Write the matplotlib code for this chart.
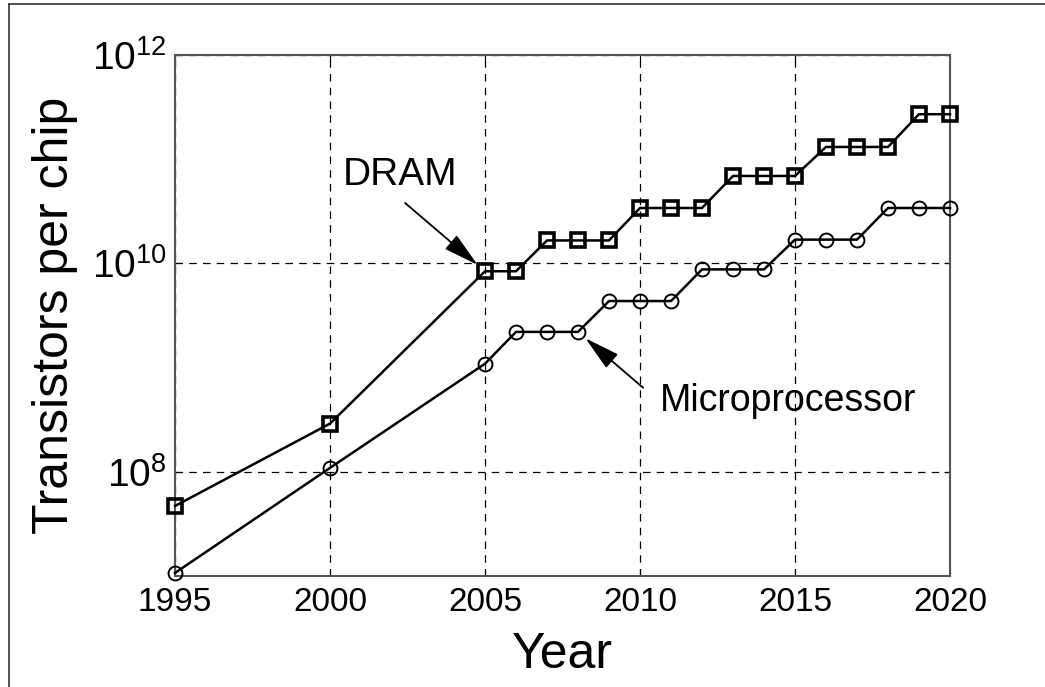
import matplotlib.pyplot as plt
import numpy as np
from matplotlib.lines import Line2D

plt.rcParams['font.family'] = ['Liberation Sans', 'DejaVu Sans']
plt.rcParams['mathtext.fontset'] = 'custom'
plt.rcParams['mathtext.rm'] = 'Liberation Sans'

# projected transistor counts per chip
years_early = [1995, 2000]
dram_early = [4.7e7, 2.9e8]
micro_early = [1.07e7, 1.09e8]
years_late = list(range(2005, 2021))
dram_late = [8.4e9, 8.4e9,
             1.66e10, 1.66e10, 1.66e10,
             3.4e10, 3.4e10, 3.4e10,
             6.9e10, 6.9e10, 6.9e10,
             1.31e11, 1.31e11, 1.31e11,
             2.7e11, 2.7e11]
micro_late = [1.09e9,
              2.2e9, 2.2e9, 2.2e9,
              4.35e9, 4.35e9, 4.35e9,
              8.75e9, 8.75e9, 8.75e9,
              1.69e10, 1.69e10, 1.69e10,
              3.4e10, 3.4e10, 3.4e10]

dram_years = years_early + years_late
dram = dram_early + dram_late
micro_years = years_early + years_late
micro = micro_early + micro_late

fig = plt.figure(figsize=(10.45, 6.87), dpi=100)
ax = fig.add_axes([0.1675, 0.1616, 0.7416, 0.7584])

ax.plot(dram_years, dram, '-s', color='black', lw=1.8, ms=9.5,
        mfc='none', mec='black', mew=2.6, clip_on=False, zorder=3)
ax.plot(micro_years, micro, '-o', color='black', lw=1.8, ms=10,
        mfc='none', mec='black', mew=1.4, clip_on=False, zorder=3)

ax.set_yscale('log')
ax.set_xlim(1995, 2020)
ax.set_ylim(1e7, 1e12)
ax.set_xticks([1995, 2000, 2005, 2010, 2015, 2020])
ax.set_yticks([1e8, 1e10, 1e12])
ax.yaxis.set_minor_locator(plt.NullLocator())
ax.tick_params(axis='both', direction='in', length=4, width=0.8,
               pad=8, top=True, right=True)
ax.tick_params(axis='x', labelsize=24)
ax.tick_params(axis='y', labelsize=28, pad=6)
ax.grid(True, color='black', linestyle=(0, (6, 5)), lw=0.9)
for spine in ax.spines.values():
    spine.set_color('#555555')
    spine.set_linewidth(1.5)

ax.set_xlabel('Year', fontsize=36, labelpad=10)
ax.set_ylabel('Transistors per chip', fontsize=36, labelpad=10)

# labels with pointers
arrow = dict(arrowstyle='-|>,head_length=1.1,head_width=0.28',
             mutation_scale=20, color='black', lw=1.3, shrinkA=0, shrinkB=7)
ax.annotate('', xy=(dram_years[2], dram[2]), xytext=(2002.42, 3.8e10),
            arrowprops=arrow)
ax.text(2002.26, 5.6e10, 'DRAM', fontsize=28, ha='center', va='baseline')
ax.annotate('', xy=(micro_years[5], micro[5]), xytext=(2010.1, 6.4e8),
            arrowprops=arrow)
ax.text(2014.76, 3.87e8, 'Microprocessor', fontsize=27, ha='center', va='baseline')

# page frame on the left and top
fig.add_artist(Line2D([0.0086, 0.0086], [0, 0.994], color='#333333', lw=1.2))
fig.add_artist(Line2D([0.0086, 1], [0.994, 0.994], color='#333333', lw=1.2))

fig.savefig('out.png', dpi=100)
